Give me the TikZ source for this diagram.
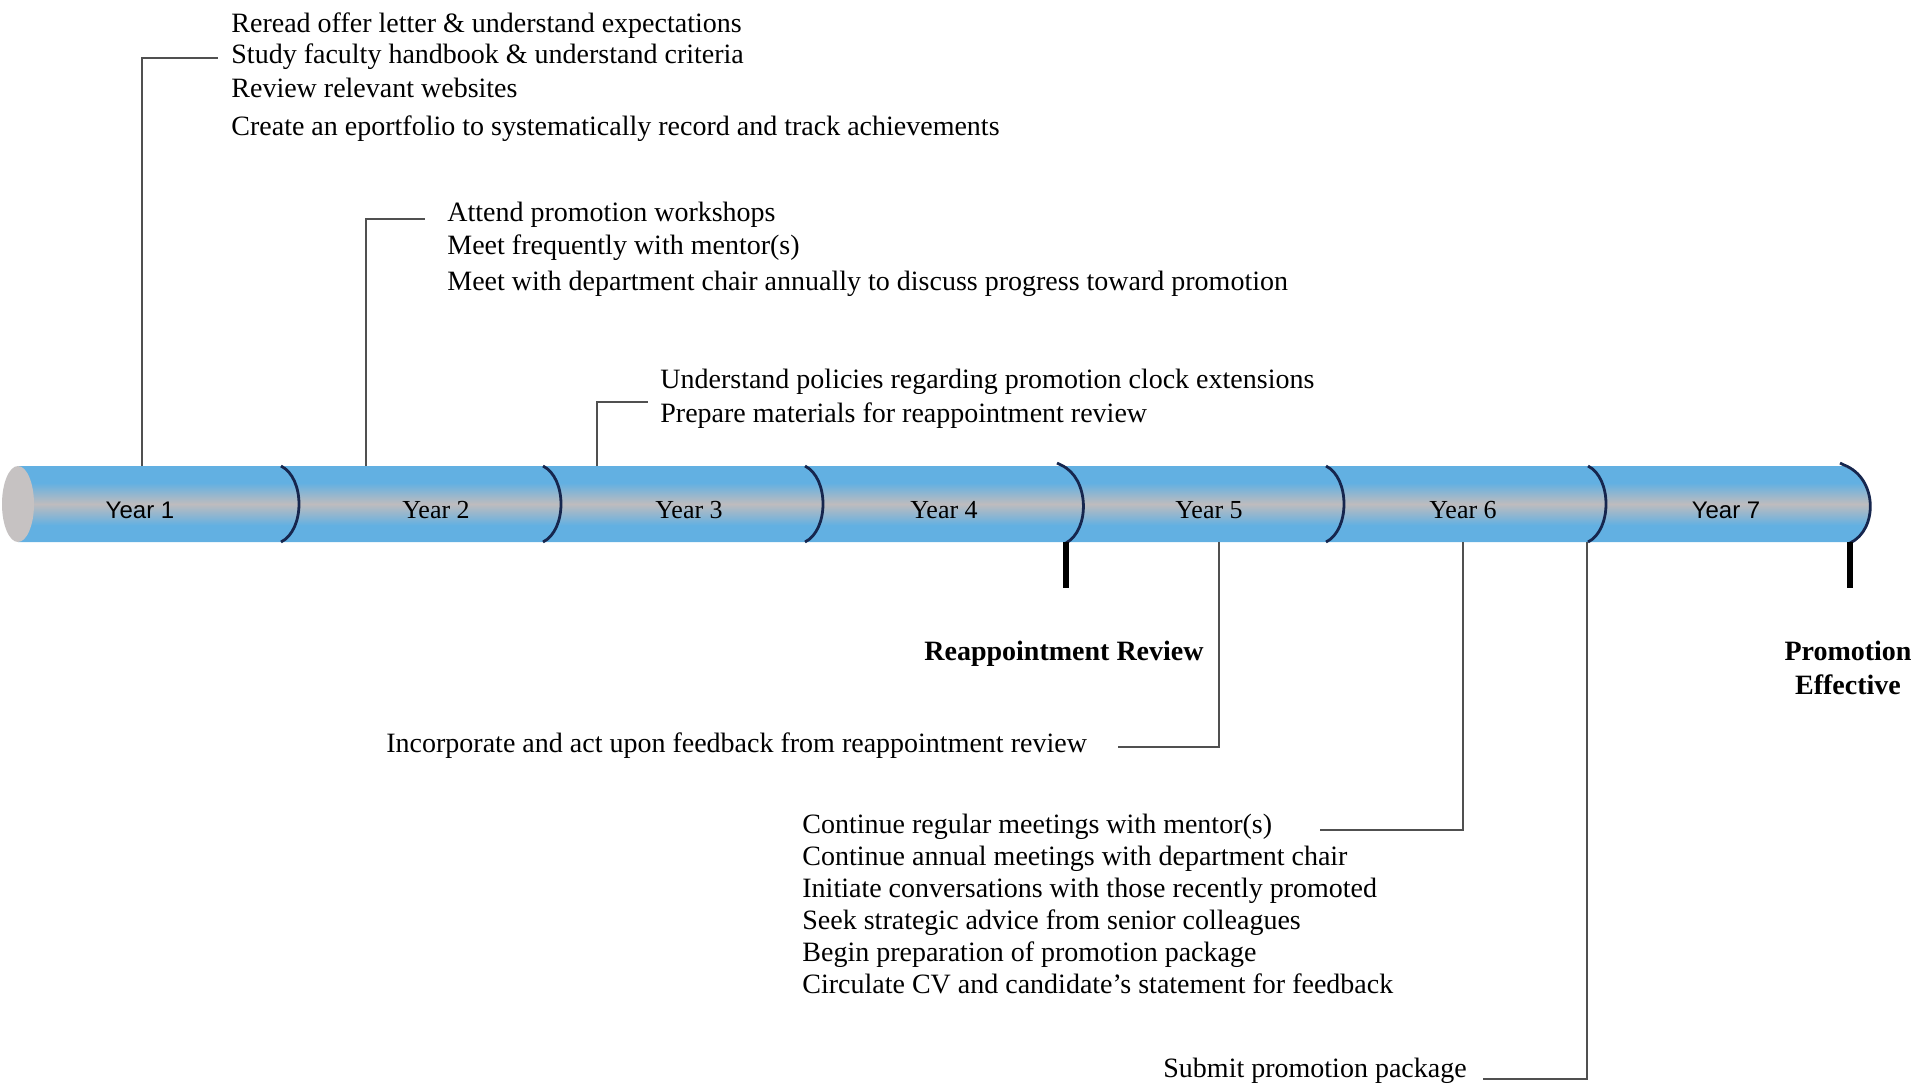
\documentclass[tikz,border=0pt]{standalone}
\usepackage{fontspec}
\setmainfont{Liberation Serif}
\newfontfamily\sansf{Liberation Sans}
\usetikzlibrary{calc}
\definecolor{tubeblue}{RGB}{98,176,226}
\definecolor{tubegray}{RGB}{190,188,190}
\definecolor{capgray}{RGB}{198,194,194}
\definecolor{sepnavy}{RGB}{22,38,78}
\definecolor{connc}{RGB}{80,80,80}
\pgfdeclareverticalshading{tubeshade}{100bp}{color(0bp)=(tubeblue); color(25bp)=(tubeblue); color(36bp)=(tubeblue); color(50bp)=(tubegray); color(64bp)=(tubeblue); color(75bp)=(tubeblue); color(100bp)=(tubeblue)}
\begin{document}
\begin{tikzpicture}[x=0.5pt,y=-0.5pt,
  txt/.style={inner sep=0pt, anchor=base west, font=\fontsize{14}{16}\selectfont},
  boldlbl/.style={inner sep=0pt, anchor=base, font=\fontsize{14}{16}\selectfont\bfseries},
  yrs/.style={inner sep=0pt, anchor=base, font=\fontsize{13}{15}\selectfont},
  yrsans/.style={inner sep=0pt, anchor=base, font=\sansf\fontsize{12}{14}\selectfont},
  conn/.style={draw=connc, line width=1.2pt},
  sepline/.style={draw=sepnavy, line width=1.4pt},
  stem/.style={draw=black, line width=2.6pt}]
\useasboundingbox (0,0) rectangle (1915,1084);
\fill[white] (0,0) rectangle (1915,1084);

% tube
\shade[shading=tubeshade] (18,466) -- (1843,466) .. controls (1877,478) and (1877,530) .. (1850,542) -- (18,542) -- cycle;
\fill[capgray] (18,504) ellipse [x radius=16, y radius=38];

% separators
\foreach \x in {281,543,805,1326,1588}
  \draw[sepline] (\x,466) .. controls ({\x+24},478) and ({\x+24},530) .. (\x,542);

% markers
\draw[sepline] (1057,463) -- (1061,465) .. controls (1090,478) and (1090,530) .. (1066,543);
\coordinate (m4a) at (1066,542);
\coordinate (m4b) at (1066,588);
\draw[stem] (m4a) -- (m4b);
\draw[sepline] (1840,463) -- (1844,465) .. controls (1878,478) and (1878,530) .. (1850,543);
\coordinate (m7a) at (1850,542);
\coordinate (m7b) at (1850,588);
\draw[stem] (m7a) -- (m7b);

% year labels
\node[yrsans] (y1) at (140,518) {Year 1};
\node[yrs] (y2) at (436,518) {Year 2};
\node[yrs] (y3) at (689,518) {Year 3};
\node[yrs] (y4) at (944,518) {Year 4};
\node[yrs] (y5) at (1209,518) {Year 5};
\node[yrs] (y6) at (1463,518) {Year 6};
\node[yrsans] (y7) at (1726,518) {Year 7};

% group 1
\node[txt] (g1a) at (231,32) {Reread offer letter \& understand expectations};
\node[txt] (g1b) at (231,63) {Study faculty handbook \& understand criteria};
\node[txt] (g1c) at (231,97) {Review relevant websites};
\node[txt] (g1d) at (231,135) {Create an eportfolio to systematically record and track achievements};

% group 2
\node[txt] (g2a) at (447,221) {Attend promotion workshops};
\node[txt] (g2b) at (447,254) {Meet frequently with mentor(s)};
\node[txt] (g2c) at (447,290) {Meet with department chair annually to discuss progress toward promotion};

% group 3
\node[txt] (g3a) at (660,388) {Understand policies regarding promotion clock extensions};
\node[txt] (g3b) at (660,422) {Prepare materials for reappointment review};

% milestones
\node[boldlbl] (rr) at (1064,660) {Reappointment Review};
\node[boldlbl] (pe1) at (1848,660) {Promotion};
\node[boldlbl] (pe2) at (1848,694) {Effective};

% group 5
\node[txt] (g5) at (386,752) {Incorporate and act upon feedback from reappointment review};

% group 6
\node[txt] (g6a) at (802,833) {Continue regular meetings with mentor(s)};
\node[txt] (g6b) at (802,865) {Continue annual meetings with department chair};
\node[txt] (g6c) at (802,897) {Initiate conversations with those recently promoted};
\node[txt] (g6d) at (802,929) {Seek strategic advice from senior colleagues};
\node[txt] (g6e) at (802,961) {Begin preparation of promotion package};
\node[txt] (g6f) at (802,993) {Circulate CV and candidate’s statement for feedback};

% group 7
\node[txt] (g7) at (1163,1077) {Submit promotion package};

% connectors
\coordinate (t1) at (142,466); \coordinate (h1) at (218,58);
\draw[conn] (t1) |- (h1);
\coordinate (t2) at (366,466); \coordinate (h2) at (425,219);
\draw[conn] (t2) |- (h2);
\coordinate (t3) at (597,466); \coordinate (h3) at (648,402);
\draw[conn] (t3) |- (h3);
\coordinate (b5) at (1219,542); \coordinate (h5) at (1118,747);
\draw[conn] (h5) -| (b5);
\coordinate (b6) at (1463,542); \coordinate (h6) at (1320,830);
\draw[conn] (h6) -| (b6);
\coordinate (b7) at (1587,542); \coordinate (h7) at (1483,1079);
\draw[conn] (h7) -| (b7);
\end{tikzpicture}
\end{document}
